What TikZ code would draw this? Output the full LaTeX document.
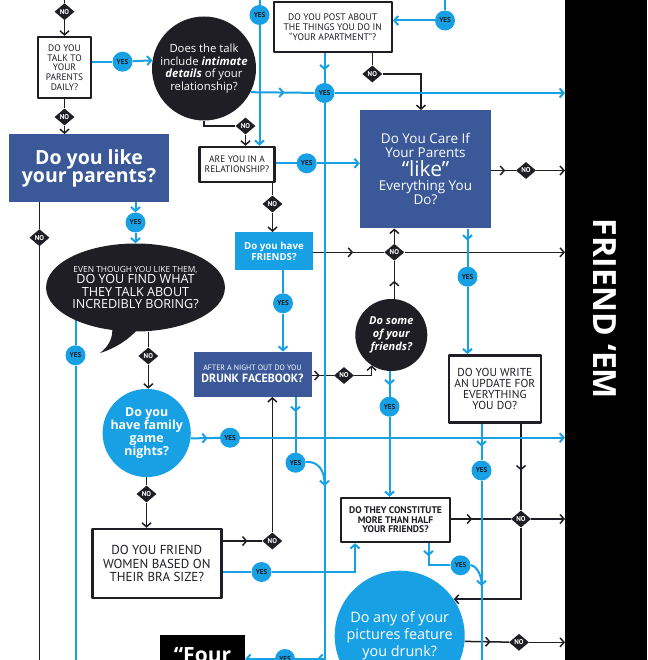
\documentclass[tikz,border=0pt]{standalone}
\usepackage{fontspec}
\setsansfont{Open Sans}
\newfontfamily\capsfont{PT Sans}
\usepackage{xcolor}
\usepackage{tikz}
\usetikzlibrary{arrows.meta,backgrounds,decorations.markings,shapes.geometric}
\definecolor{fbInk}{HTML}{1E1E24}
\definecolor{fbBlue}{HTML}{3B5998}
\definecolor{fbSky}{HTML}{18A0E4}
\tikzset{
  fb diagram/.style={font=\sffamily, line cap=round, line join=round,
    execute at begin node={\lineskiplimit=-30pt}},
  fb box/.style={draw=fbInk, fill=white, line width=2.4pt, align=center,
    inner sep=0pt, text=fbInk},
  fb blue box/.style={fill=fbBlue, text=white, align=center, inner sep=0pt},
  fb sky box/.style={fill=fbSky, text=white, align=center, inner sep=0pt},
  fb dark disc/.style={circle, fill=fbInk, text=white, align=center, inner sep=0pt},
  fb sky disc/.style={circle, fill=fbSky, text=white, align=center, inner sep=0pt},
  fb bubble/.style={ellipse, fill=fbInk, text=white, align=center, inner sep=0pt},
  fb four/.style={anchor=north, fill=black, text=white, minimum width=85pt,
    inner ysep=13pt, text height=14.5pt, text depth=30pt,
    font=\sffamily\bfseries\fontsize{21}{21}\selectfont},
  fb band/.style={text=white, rotate=-90,
    font=\sffamily\bfseries\fontsize{32}{32}\selectfont},
  fb yes/.style={circle, fill=fbSky, text=fbInk, minimum size=20pt, inner sep=0pt,
    font=\capsfont\bfseries\fontsize{7}{7}\selectfont},
  fb no/.style={diamond, fill=fbInk, text=white, minimum width=20pt,
    minimum height=17pt, inner sep=0pt,
    font=\capsfont\bfseries\fontsize{7}{7}\selectfont},
  fb line/.style={draw=fbInk, line width=1.5pt},
  fb sky line/.style={draw=fbSky, line width=2pt},
  fb tip/.style={-{Straight Barb[length=4pt,width=9pt]}},
  fb mid/.style={postaction={decorate, decoration={markings,
    mark=at position #1 with {\arrow{Straight Barb[length=4pt,width=9pt]}}}}}
}

\begin{document}
\begin{tikzpicture}[fb diagram, x=1pt, y=-1pt]
\useasboundingbox (0,0) rectangle (647,660);
\fill[black] (565,0) rectangle (647,660);
\node[fb band] (friendem) at (605,309) {FRIEND ‘EM};

\node[fb box, minimum width=53pt, minimum height=61pt,
  font=\capsfont\fontsize{9.4}{9.7}\selectfont] (talk) at (64.5,67.5)
  {DO YOU\\TALK TO\\YOUR\\PARENTS\\DAILY?};
\node[fb dark disc, minimum size=104pt, font=\sffamily\fontsize{11.3}{12.6}\selectfont]
  (intimate) at (204,68.5)
  {Does the talk\\include \textbf{\textit{intimate}}\\\textbf{\textit{details}} of your\\relationship?};
\node[fb blue box, minimum width=160pt, minimum height=68pt,
  font=\sffamily\bfseries\fontsize{19.5}{18}\selectfont] (likeparents) at (89,168.3)
  {Do you like\\your parents?};
\node[fb box, minimum width=75pt, minimum height=35pt,
  font=\capsfont\fontsize{9.4}{10}\selectfont] (relationship) at (237,164.5)
  {ARE YOU IN A\\RELATIONSHIP?};
\node[fb box, minimum width=118pt, minimum height=50pt,
  font=\capsfont\fontsize{9.5}{9.9}\selectfont] (apartment) at (332.7,27)
  {DO YOU POST ABOUT\\THE THINGS YOU DO IN\\“YOUR APARTMENT”?};
\node[fb blue box, minimum width=131pt, minimum height=118pt,
  font=\sffamily\fontsize{13.5}{14}\selectfont] (careparents) at (425.5,169.3)
  {Do You Care If\\Your Parents\\[5pt]{\fontsize{21}{21}\selectfont “like”}\\Everything You\\Do?};
\node[fb sky box, minimum width=78pt, minimum height=38pt,
  font=\sffamily\bfseries\fontsize{9.7}{11}\selectfont] (friends) at (274,251.2)
  {Do you have\\FRIENDS?};
\fill[fbInk] (112,325) .. controls (114,338) and (108,347) .. (100,353)
  .. controls (116,348) and (128,340) .. (138,329) -- cycle;
\node[fb bubble, minimum width=178pt, minimum height=88pt,
  font=\sffamily\fontsize{12.6}{12.7}\selectfont] (boring) at (135.5,287.5)
  {{\fontsize{8.4}{8.4}\selectfont EVEN THOUGH YOU LIKE THEM,}\\[-1.4pt]DO YOU FIND WHAT\\THEY TALK ABOUT\\INCREDIBLY BORING?};
\node[fb dark disc, minimum size=72pt,
  font=\sffamily\bfseries\itshape\fontsize{11}{13}\selectfont] (somefriends) at (391.3,335)
  {Do some\\of your\\friends?};
\node[fb blue box, minimum width=118pt, minimum height=45pt] (drunkfb) at (252.5,374.3)
  {{\capsfont\fontsize{7.8}{8}\selectfont AFTER A NIGHT OUT DO YOU}\\{\capsfont\bfseries\fontsize{11.9}{12}\selectfont DRUNK FACEBOOK?}};
\node[fb box, minimum width=92pt, minimum height=67pt,
  font=\capsfont\fontsize{11.5}{11}\selectfont] (everything) at (494.8,388.8)
  {DO YOU WRITE\\AN UPDATE FOR\\EVERYTHING\\YOU DO?};
\node[fb sky disc, minimum size=84pt, font=\sffamily\bfseries\fontsize{12.4}{13}\selectfont]
  (gamenights) at (146.7,433) {Do you\\have family\\game\\nights?};
\node[fb box, minimum width=129pt, minimum height=69pt,
  font=\capsfont\fontsize{13}{13.5}\selectfont] (brasize) at (156.8,563.5)
  {DO YOU FRIEND\\WOMEN BASED ON\\THEIR BRA SIZE?};
\node[fb box, minimum width=109pt, minimum height=44pt,
  font=\capsfont\bfseries\fontsize{9.6}{9.6}\selectfont] (morehalf) at (395.5,520)
  {DO THEY CONSTITUTE\\MORE THAN HALF\\YOUR FRIENDS?};
\node[fb sky disc, minimum size=130pt, font=\sffamily\fontsize{14.4}{17}\selectfont]
  (pictures) at (399.7,635.7) {Do any of your\\pictures feature\\you drunk?};
\node[fb four] (four) at (202.5,635) {“Four};

\foreach \n/\x/\y in {yesTop/259.5/15, yesSide/445/20.5, yesTalk/122.5/61.7,
    yesPost/324.5/93, yesRel/306.7/163.3, yesLike/135.5/222.5, yesCare/467.5/276.7,
    yesFriends/283/303.3, yesBoring/75.5/355.3, yesSome/389.5/406.7,
    yesGame/230/437.7, yesDrunk/295.5/462.7, yesWrite/481.5/470.5,
    yesHalf/460.5/565.3, yesBra/261.5/572, yesFour/285/659}
  \node[fb yes] (\n) at (\x,\y) {YES};
\foreach \n/\x/\y in {noTop/64.5/11.7, noTalk/64.5/117, noIntimate/245.5/126,
    noPost/372.3/74, noCare/526/170.5, noRel/272.5/204, noLike/39.5/237.7,
    noFriends/394.3/252.3, noBoring/148.3/356, noDrunk/344/375.5,
    noGame/146.5/494, noWrite/521/519, noBra/272.3/541, noPictures/519/642.3}
  \node[fb no] (\n) at (\x,\y) {NO};

\coordinate (topIn) at (64.5,0);
\coordinate (skyTopA) at (259.5,0);
\coordinate (skyTopB) at (445,0);
\coordinate (eTalk) at (565,93);
\coordinate (eCare) at (565,170.5);
\coordinate (eFriends) at (565,252.3);
\coordinate (eGame) at (565,437.7);
\coordinate (eHalf) at (565,519);
\coordinate (ePictures) at (565,642.3);
\coordinate (bLike) at (39.5,660);
\coordinate (bBoring) at (75.5,660);
\coordinate (bWrite) at (481.5,660);
\coordinate (mergeDrunk) at (324.5,486);
\coordinate (mergeHalf) at (481.5,586);

\begin{scope}[on background layer]
\draw[fb line] (topIn) -- (noTop);
\draw[fb line, fb tip] (noTop) -- (talk);
\draw[fb line] (talk) -- (noTalk);
\draw[fb line, fb tip] (noTalk) -- (likeparents.north -| noTalk);
\draw[fb line] (intimate.south) |- (noIntimate);
\draw[fb line, fb tip] (noIntimate) -- (noIntimate |- relationship.north);
\draw[fb line] (apartment.south -| noPost) -- (noPost);
\draw[fb line, fb tip] (noPost) -| ([xshift=-4.5pt]careparents.north);
\draw[fb line, fb mid=14pt] (careparents.east |- noCare) -- (noCare);
\draw[fb line, fb tip] (noCare) -- (eCare);
\draw[fb line] (relationship.south -| noRel) -- (noRel);
\draw[fb line, fb tip] (noRel) -- (noRel |- friends.north);
\draw[fb line] (likeparents.south -| noLike) -- (noLike) -- (bLike);
\draw[fb line, fb mid=40pt] (friends.east |- noFriends) -- (noFriends);
\draw[fb line, fb tip] (noFriends) -- (eFriends);
\draw[fb line, fb tip] (noFriends) -- (noFriends |- careparents.south);
\draw[fb line, fb mid=18pt] (somefriends.north -| noFriends) -- (noFriends);
\draw[fb line] (boring.south -| noBoring) -- (noBoring);
\draw[fb line, fb tip] (noBoring) -- (noBoring |- gamenights.north);
\draw[fb line] (gamenights.south -| noGame) -- (noGame);
\draw[fb line, fb tip] (noGame) -- (noGame |- brasize.north);
\draw[fb line, fb mid=25pt] (brasize.east |- noBra) -- (noBra);
\draw[fb line, fb tip] (noBra) -- (noBra |- drunkfb.south);
\draw[fb line, fb mid=8pt] (drunkfb.east |- noDrunk) -- (noDrunk);
\draw[fb line, fb tip] (noDrunk) -| (somefriends.237);
\draw[fb line, fb mid=47pt] (everything.south -| noWrite) -- (noWrite);
\draw[fb line, fb mid=21pt] (morehalf.east |- noWrite) -- (noWrite);
\draw[fb line, fb tip] (noWrite) -- (eHalf);
\draw[fb line, fb tip] (noWrite) |- (pictures.34);
\draw[fb line, fb mid=26pt] (pictures.-5) -- (noPictures);
\draw[fb line, fb tip] (noPictures) -- (ePictures);

\draw[fb sky line] (skyTopA) -- (yesTop);
\draw[fb sky line, fb tip] (yesTop) -- (yesTop |- relationship.north);
\draw[fb sky line] (skyTopB) -- (yesSide);
\draw[fb sky line, fb tip] (yesSide) -- (apartment.east |- yesSide);
\draw[fb sky line] (talk.east |- yesTalk) -- (yesTalk);
\draw[fb sky line, fb tip] (yesTalk) -- (intimate.171);
\draw[fb sky line, fb mid=34pt] (intimate.-27) -- (yesPost);
\draw[fb sky line, fb tip] (yesPost) -- (eTalk);
\draw[fb sky line, fb mid=17pt] (apartment.south -| yesPost) -- (yesPost);
\draw[fb sky line, fb mid=-22pt] (yesPost) |- (yesFour);
\draw[fb sky line, fb tip] (yesFour) -- (four.east |- yesFour);
\draw[fb sky line] (relationship.east |- yesRel) -- (yesRel);
\draw[fb sky line, fb tip] (yesRel) -- (careparents.west |- yesRel);
\draw[fb sky line, fb tip] (likeparents.south -| yesLike) -- (yesLike);
\draw[fb sky line, fb tip] (yesLike) -- (yesLike |- boring.north);
\draw[fb sky line, fb mid=12pt] (careparents.south -| yesCare) -- (yesCare);
\draw[fb sky line, fb tip] (yesCare) -- (yesCare |- everything.north);
\draw[fb sky line] (friends.south -| yesFriends) -- (yesFriends);
\draw[fb sky line, fb tip] (yesFriends) -- (yesFriends |- drunkfb.north);
\draw[fb sky line] (yesBoring |- boring.208) -- (yesBoring) -- (bBoring);
\draw[fb sky line, fb mid=14pt] (somefriends.south -| yesSome) -- (yesSome);
\draw[fb sky line, fb tip] (yesSome) -- (yesSome |- morehalf.north);
\draw[fb sky line, fb mid=17pt] (gamenights.-7) -- (yesGame);
\draw[fb sky line, fb tip] (yesGame) -- (eGame);
\draw[fb sky line, fb mid=15pt] (drunkfb.south -| yesDrunk) -- (yesDrunk);
\draw[fb sky line, fb tip] (yesDrunk) .. controls (318,461) and (324.5,470) .. (mergeDrunk);
\draw[fb sky line, fb mid=23pt] (everything.south -| yesWrite) -- (yesWrite);
\draw[fb sky line] (yesWrite) -- (bWrite);
\draw[fb sky line, fb mid=13pt] ([xshift=33pt]morehalf.south) |- (yesHalf);
\draw[fb sky line, fb tip] (yesHalf) .. controls (474,565) and (481.5,572) .. (mergeHalf);
\draw[fb sky line] (brasize.east |- yesBra) -- (yesBra);
\draw[fb sky line, fb tip] (yesBra) -| ([xshift=-40.5pt]morehalf.south);
\end{scope}
\end{tikzpicture}
\end{document}
